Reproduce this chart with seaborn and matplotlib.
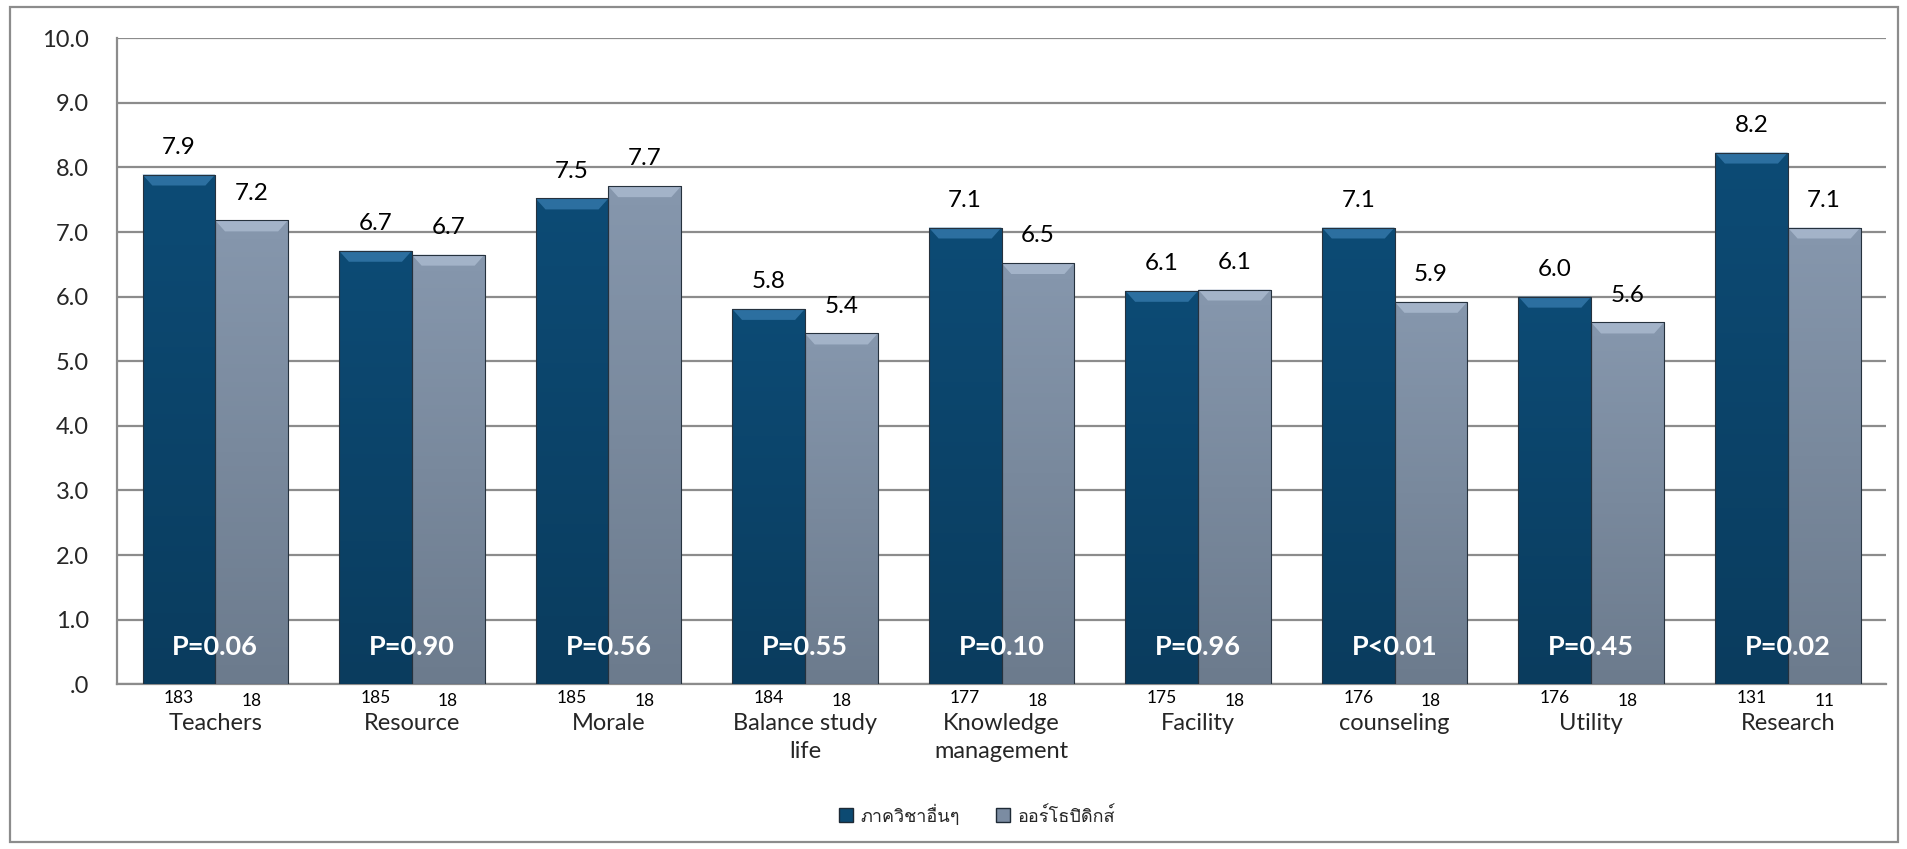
import numpy as np
import pandas as pd
import matplotlib
matplotlib.use("Agg")
import matplotlib.pyplot as plt
import matplotlib.patches as mpatches
from matplotlib import font_manager
from matplotlib.ft2font import FT2Font
from matplotlib.colors import LinearSegmentedColormap
import seaborn as sns

# ── Data ─────────────────────────────────────────────────────────────────────
categories = ["Teachers", "Resource", "Morale", "Balance study\nlife",
              "Knowledge\nmanagement", "Facility", "counseling", "Utility", "Research"]
groups = ["ภาควิชาอื่นๆ", "ออร์โธปิดิกส์"]
other_dept = [7.89, 6.71, 7.52, 5.81, 7.07, 6.09, 7.07, 6.00, 8.23]
ortho_dept = [7.18, 6.65, 7.71, 5.43, 6.52, 6.11, 5.92, 5.60, 7.07]
n_other = [183, 185, 185, 184, 177, 175, 176, 176, 131]
n_ortho = [18, 18, 18, 18, 18, 18, 18, 18, 11]
p_labels = ["P=0.06", "P=0.90", "P=0.56", "P=0.55", "P=0.10",
            "P=0.96", "P<0.01", "P=0.45", "P=0.02"]
y_ticks = [0, 1, 2, 3, 4, 5, 6, 7, 8, 9, 10]
y_tick_labels = [".0", "1.0", "2.0", "3.0", "4.0", "5.0",
                 "6.0", "7.0", "8.0", "9.0", "10.0"]

# ── Style ────────────────────────────────────────────────────────────────────
sns.set_theme(style="white")
plt.rcParams["font.family"] = ["Lato", "DejaVu Sans"]


def _thai_font():
    """Find an installed family that has Thai glyphs."""
    for f in font_manager.fontManager.ttflist:
        try:
            ft = FT2Font(f.fname)
            if ft.get_char_index(ord("ภ")) and ft.get_char_index(ord("ส")):
                return f.name
        except Exception:
            continue
    return None


thai = _thai_font()
legend_family = [thai, "Lato", "DejaVu Sans"] if thai else ["Lato", "DejaVu Sans"]

DARK = "#0C4A72"
GRAY = "#7B8CA2"
grad = {
    DARK: LinearSegmentedColormap.from_list("d", ["#0A3C5E", "#0D4B75"]),
    GRAY: LinearSegmentedColormap.from_list("g", ["#6C7B8D", "#8697AD"]),
}
bevel = {DARK: "#3A7FB3", GRAY: "#B0C0D5"}

df = pd.DataFrame({
    "category": categories * 2,
    "group": [groups[0]] * len(categories) + [groups[1]] * len(categories),
    "value": other_dept + ortho_dept,
})

fig = plt.figure(figsize=(19.08, 8.49), dpi=100)
ax = fig.add_axes([0.0613, 0.194, 0.9272, 0.761])

sns.barplot(data=df, x="category", y="value", hue="group", hue_order=groups,
            palette=[DARK, GRAY], width=0.74, gap=0, ax=ax, legend=False,
            edgecolor="#2E3A46", linewidth=0.6, zorder=3)

ax.set_xlim(-0.5, len(categories) - 0.5)
ax.set_ylim(0, 10)

# gradient fill + top bevel on each bar
for container, col in zip(ax.containers, [DARK, GRAY]):
    for bar in container:
        x, w, h = bar.get_x(), bar.get_width(), bar.get_height()
        im = ax.imshow(np.linspace(0, 1, 100).reshape(-1, 1), cmap=grad[col],
                       extent=[x, x + w, 0, h], aspect="auto", origin="lower",
                       zorder=3.5)
        im.set_clip_path(bar)
        d, hb = 0.05, 0.17
        ax.add_patch(mpatches.Polygon(
            [(x, h), (x + w, h), (x + w - d, h - hb), (x + d, h - hb)],
            closed=True, facecolor=bevel[col], edgecolor="none", alpha=0.7,
            zorder=3.6))
        ax.add_patch(mpatches.Rectangle((x, 0), w, h, fill=False,
                                        edgecolor="#26323E", linewidth=0.8,
                                        zorder=3.7))

ax.set_xlim(-0.5, len(categories) - 0.5)
ax.set_ylim(0, 10)

# value labels above bars
for container in ax.containers:
    ax.bar_label(container, fmt="%.1f", padding=12, fontsize=17.5, color="black")

# group sizes under bars
for container, counts, dy in zip(ax.containers, [n_other, n_ortho], [-0.09, -0.14]):
    for bar, n in zip(container, counts):
        ax.text(bar.get_x() + bar.get_width() / 2, dy, str(n), ha="center",
                va="top", fontsize=12.5, color="black", clip_on=False)

# p-values inside bars
for i, p in enumerate(p_labels):
    ax.text(i, 0.58, p, ha="center", va="center", fontsize=19.5,
            fontweight="bold", color="white", zorder=5)

ax.set_yticks(y_ticks)
ax.set_yticklabels(y_tick_labels, fontsize=17)
ax.set_xticks(range(len(categories)))
ax.set_xticklabels(categories, fontsize=17, linespacing=1.4)
ax.tick_params(axis="y", length=0, pad=20)
ax.tick_params(axis="x", length=0, pad=21)
ax.set_xlabel("")
ax.set_ylabel("")

ax.yaxis.grid(True, color="#8C8C8C", linewidth=1.6, zorder=0)
ax.set_axisbelow(True)
for side in ["top", "right"]:
    ax.spines[side].set_visible(False)
for side in ["left", "bottom"]:
    ax.spines[side].set_color("#8C8C8C")
    ax.spines[side].set_linewidth(1.6)

# legend
handles = [mpatches.Patch(facecolor=DARK, edgecolor="#1E2A36", label=groups[0]),
           mpatches.Patch(facecolor=GRAY, edgecolor="#1E2A36", label=groups[1])]
fig.legend(handles=handles, loc="center", bbox_to_anchor=(0.512, 0.04), ncol=2,
           frameon=False, handlelength=0.8, handleheight=0.8, handletextpad=0.4,
           columnspacing=2.0, prop={"family": legend_family, "size": 13})

# outer chart frame
fig.add_artist(mpatches.Rectangle((0.0055, 0.008), 0.989, 0.984,
                                  transform=fig.transFigure, fill=False,
                                  edgecolor="#8C8C8C", linewidth=1.6))

fig.savefig("out.png", dpi=100)
